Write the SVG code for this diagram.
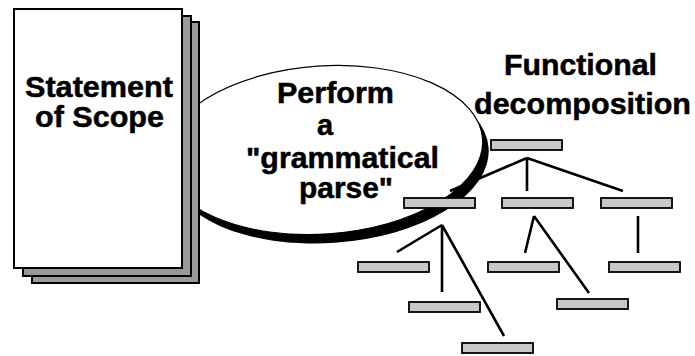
<svg xmlns="http://www.w3.org/2000/svg" width="695" height="356" viewBox="0 0 695 356">
<style>
.t{font-family:"Liberation Sans",Arial,sans-serif;font-weight:bold;font-size:29px;fill:#000;stroke:#000;stroke-width:0.5}
.box{fill:#c8c8c8;stroke:#000;stroke-width:1.8}
.page{stroke:#000;stroke-width:2}
.ln{stroke:#000;stroke-width:2.6;fill:none;stroke-linecap:butt}
</style>
<rect width="695" height="356" fill="#fff"/>
<g id="parse">
  <ellipse cx="329" cy="159" rx="160" ry="84" transform="rotate(-4 329 159)" fill="#000"/>
  <ellipse cx="323" cy="150" rx="160" ry="84" transform="rotate(-4 323 150)" fill="#fff" stroke="#000" stroke-width="1.2"/>
  <text class="t" x="277" y="103" textLength="117" lengthAdjust="spacingAndGlyphs">Perform</text>
  <text class="t" x="317" y="135">a</text>
  <text class="t" x="246" y="168" textLength="193" lengthAdjust="spacingAndGlyphs">"grammatical</text>
  <text class="t" x="299" y="198" textLength="94" lengthAdjust="spacingAndGlyphs">parse"</text>
</g>
<g id="scope">
  <rect class="page" x="32" y="22" width="167" height="261" fill="#999"/>
  <rect class="page" x="23" y="16" width="168" height="260" fill="#999"/>
  <rect class="page" x="14" y="9" width="168" height="259" fill="#fff"/>
  <text class="t" x="25" y="96.5" textLength="148" lengthAdjust="spacingAndGlyphs">Statement</text>
  <text class="t" x="35" y="127" textLength="129" lengthAdjust="spacingAndGlyphs">of Scope</text>
</g>
<g id="title">
  <text class="t" x="504" y="75" textLength="153" lengthAdjust="spacingAndGlyphs">Functional</text>
  <text class="t" x="474" y="114" textLength="217" lengthAdjust="spacingAndGlyphs">decomposition</text>
</g>
<g id="connectors">
  <path class="ln" d="M527 158 L450 191 M527 158 L527 191 M527 158 L623 191"/>
  <path class="ln" d="M442 225 L397 252 M442 225 L442 292 M442 225 L504 336"/>
  <path class="ln" d="M534 216 L525 253 M534 216 L589 293"/>
  <path class="ln" d="M638 216 L638 253"/>
</g>
<g id="root"><rect class="box" x="491" y="140" width="71" height="10"/></g>
<g id="f1"><rect class="box" x="404" y="198" width="71" height="10"/></g>
<g id="f2"><rect class="box" x="502" y="198" width="71" height="10"/></g>
<g id="f3"><rect class="box" x="601" y="198" width="71" height="10"/></g>
<g id="f11"><rect class="box" x="358" y="262" width="71" height="10"/></g>
<g id="f12"><rect class="box" x="409" y="302" width="71" height="10"/></g>
<g id="f13"><rect class="box" x="462" y="343" width="71" height="10"/></g>
<g id="f21"><rect class="box" x="488" y="262" width="71" height="10"/></g>
<g id="f22"><rect class="box" x="557" y="299" width="71" height="10"/></g>
<g id="f31"><rect class="box" x="609" y="262" width="71" height="10"/></g>
</svg>
